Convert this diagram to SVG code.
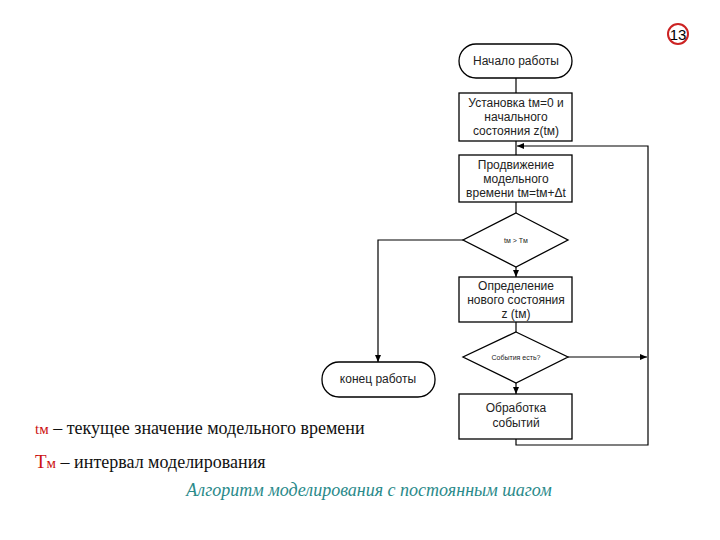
<svg xmlns="http://www.w3.org/2000/svg" width="720" height="540" viewBox="0 0 720 540">
<defs>
<marker id="arr" markerWidth="8" markerHeight="8" refX="7" refY="4" orient="auto" markerUnits="userSpaceOnUse">
<path d="M0,1 L7,4 L0,7 Z" fill="#000"/>
</marker>
<style>
.box{fill:#fff;stroke:#000;stroke-width:1.3}
.t{font-family:"Liberation Sans",Arial,sans-serif;font-size:12px;fill:#222;text-anchor:middle}
.ts{font-family:"Liberation Sans",Arial,sans-serif;font-size:7px;fill:#222;text-anchor:middle}
.ln{fill:none;stroke:#000;stroke-width:1.2}
.leg{font-family:"Liberation Serif","Times New Roman",serif;font-size:18px;fill:#111}
.red{fill:#cc1111}
</style>
</defs>
<rect width="720" height="540" fill="#fff"/>
<g id="page-num">
<circle cx="678" cy="34" r="10" fill="#fff" stroke="#cc2222" stroke-width="2"/>
<text x="678" y="40" font-family="Liberation Sans,Arial,sans-serif" font-size="15" text-anchor="middle" fill="#000">13</text>
</g>
<g id="connectors">
<path class="ln" d="M516,78 V93"/>
<path class="ln" d="M516,141 V155"/>
<path class="ln" d="M516,202 V213"/>
<path class="ln" d="M516,267 V277" marker-end="url(#arr)"/>
<path class="ln" d="M516,322 V332"/>
<path class="ln" d="M516,383 V394" marker-end="url(#arr)"/>
<path class="ln" d="M463,240 H378 V362" marker-end="url(#arr)"/>
<path class="ln" d="M568,357 H647" marker-end="url(#arr)"/>
<path class="ln" d="M516,439 V445 H648 V146 H517" marker-end="url(#arr)"/>
</g>
<g id="start">
<rect class="box" x="459" y="44" width="113" height="34" rx="17"/>
<text class="t" x="516" y="65">Начало работы</text>
</g>
<g id="init">
<rect class="box" x="459" y="93" width="113" height="48"/>
<text class="t" x="516" y="107">Установка tм=0 и</text>
<text class="t" x="516" y="121">начального</text>
<text class="t" x="516" y="135">состояния z(tм)</text>
</g>
<g id="advance">
<rect class="box" x="459" y="155" width="113" height="47"/>
<text class="t" x="516" y="169">Продвижение</text>
<text class="t" x="516" y="183">модельного</text>
<text class="t" x="516" y="197">времени tм=tм+Δt</text>
</g>
<g id="cond1">
<polygon class="box" points="516,213 568,240 516,267 463,240"/>
<text class="ts" x="516" y="243">tм &gt; Tм</text>
</g>
<g id="newstate">
<rect class="box" x="459" y="277" width="113" height="45"/>
<text class="t" x="516" y="290">Определение</text>
<text class="t" x="516" y="304">нового состояния</text>
<text class="t" x="516" y="318">z (tм)</text>
</g>
<g id="cond2">
<polygon class="box" points="516,332 568,357 516,383 463,357"/>
<text class="ts" x="516" y="360">События есть?</text>
</g>
<g id="events">
<rect class="box" x="459" y="394" width="113" height="45"/>
<text class="t" x="516" y="412">Обработка</text>
<text class="t" x="516" y="427">событий</text>
</g>
<g id="end">
<rect class="box" x="322" y="362" width="113" height="35" rx="17"/>
<text class="t" x="378" y="383">конец работы</text>
</g>
<g id="legend">
<text class="leg" x="35" y="434"><tspan class="red" font-size="15">tм</tspan> – текущее значение модельного времени</text>
<text class="leg" x="35" y="468"><tspan class="red" font-size="19">T</tspan><tspan class="red" font-size="15">м</tspan> – интервал моделирования</text>
<text x="369" y="496" font-family="Liberation Serif,Times New Roman,serif" font-style="italic" font-size="18" fill="#2a8a8a" text-anchor="middle">Алгоритм моделирования с постоянным шагом</text>
</g>
</svg>
